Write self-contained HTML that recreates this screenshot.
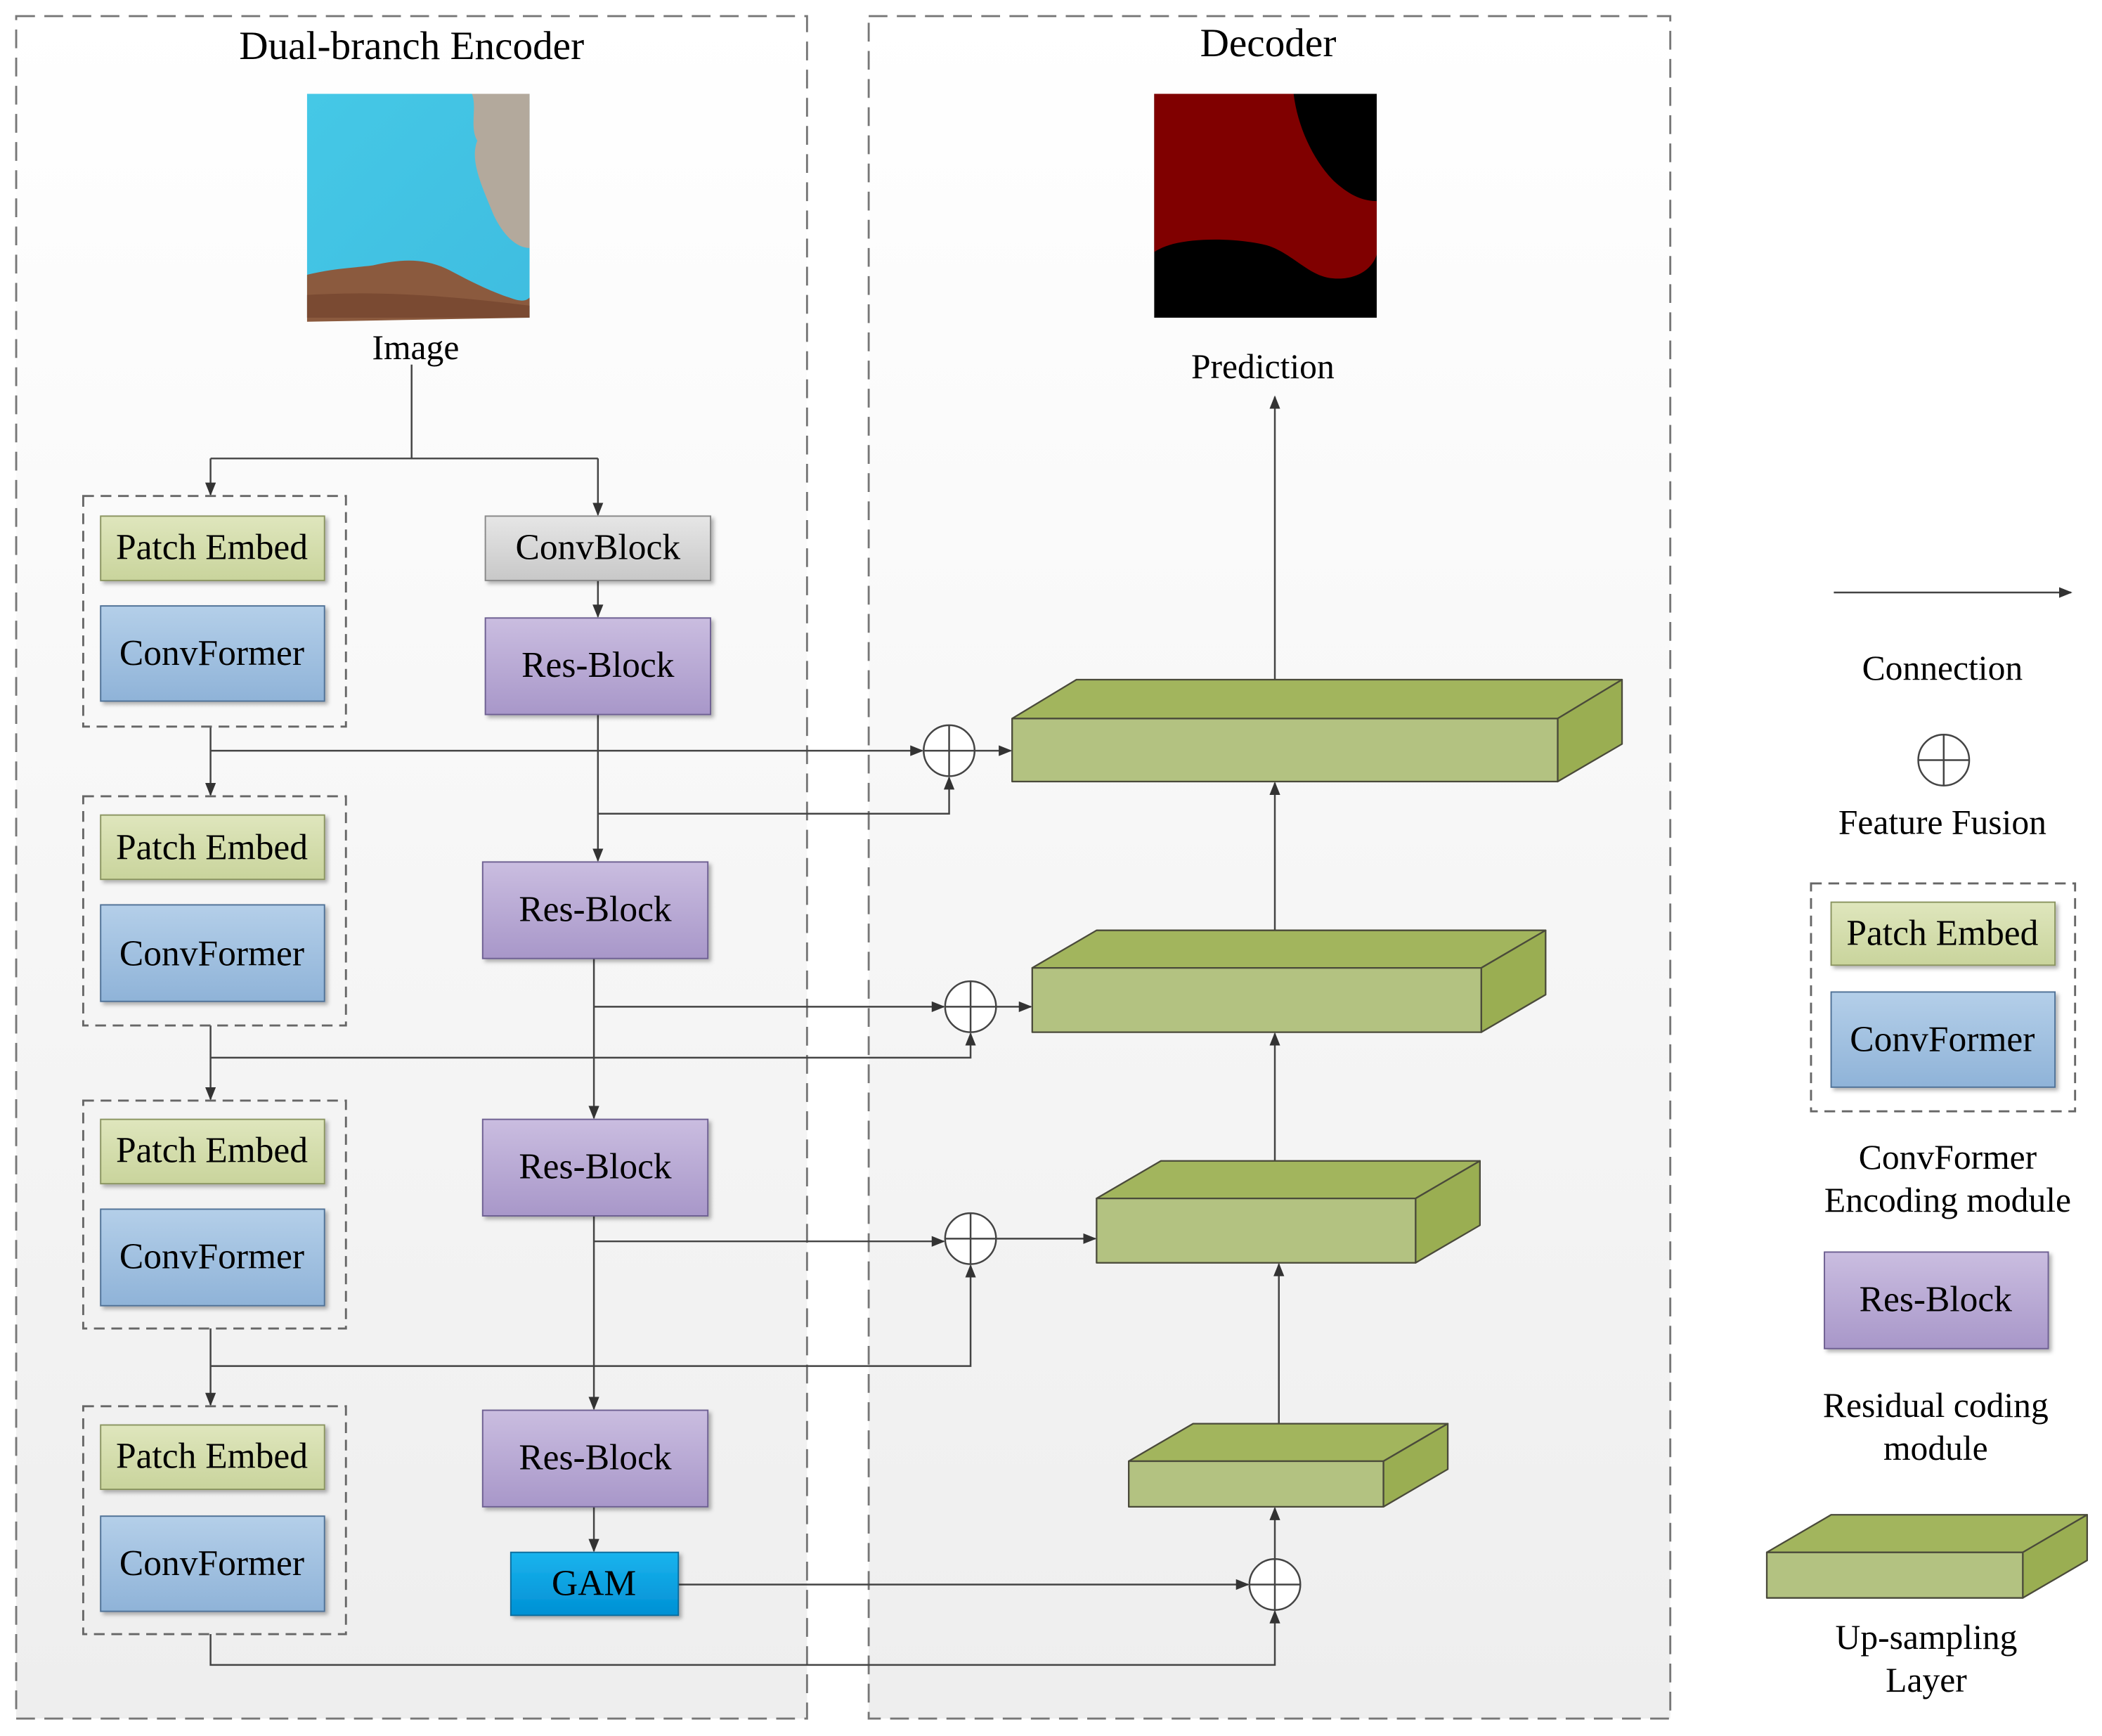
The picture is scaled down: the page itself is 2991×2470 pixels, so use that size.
<!DOCTYPE html>
<html><head><meta charset="utf-8"><style>html,body{margin:0;padding:0;background:#fff}svg{display:block}</style></head>
<body>
<svg width="2991" height="2470" viewBox="0 0 1568 1295" xmlns="http://www.w3.org/2000/svg" font-family="Liberation Serif, serif">
<defs>
<linearGradient id="bg" x1="0" y1="0" x2="0" y2="1"><stop offset="0" stop-color="#ffffff"/><stop offset="1" stop-color="#eeeeee"/></linearGradient>
<linearGradient id="pe" x1="0" y1="0" x2="0" y2="1"><stop offset="0" stop-color="#dfe6bd"/><stop offset="1" stop-color="#c9d49c"/></linearGradient>
<linearGradient id="cf" x1="0" y1="0" x2="0" y2="1"><stop offset="0" stop-color="#b4cfe9"/><stop offset="1" stop-color="#8fb3d8"/></linearGradient>
<linearGradient id="rb" x1="0" y1="0" x2="0" y2="1"><stop offset="0" stop-color="#cabde0"/><stop offset="1" stop-color="#a897c9"/></linearGradient>
<linearGradient id="cb" x1="0" y1="0" x2="0" y2="1"><stop offset="0" stop-color="#e6e6e6"/><stop offset="1" stop-color="#c8c8c8"/></linearGradient>
<linearGradient id="gam" x1="0" y1="0" x2="0" y2="1"><stop offset="0" stop-color="#1ab4ee"/><stop offset="1" stop-color="#0090d4"/></linearGradient>
<linearGradient id="water" x1="0" y1="0" x2="1" y2="1"><stop offset="0" stop-color="#45c8e6"/><stop offset="1" stop-color="#3fbde0"/></linearGradient>
<marker id="a" markerWidth="10" markerHeight="8" refX="9" refY="4" orient="auto" markerUnits="userSpaceOnUse"><path d="M0,0 L10,4 L0,8 Z" fill="#333"/></marker>
<filter id="sh" x="-10%" y="-10%" width="130%" height="140%"><feDropShadow dx="2" dy="2" stdDeviation="1.5" flood-color="#000" flood-opacity="0.3"/></filter>
</defs>
<rect width="1568" height="1295" fill="#fff"/>
<rect x="12" y="12" width="590" height="1270" fill="url(#bg)" stroke="#777" stroke-width="1.5" stroke-dasharray="14,7"/>
<rect x="648" y="12" width="598" height="1270" fill="url(#bg)" stroke="#777" stroke-width="1.5" stroke-dasharray="14,7"/>
<text x="307" y="44" font-size="30" text-anchor="middle">Dual-branch Encoder</text>
<text x="946" y="42" font-size="30" text-anchor="middle">Decoder</text>
<rect x="229" y="70" width="166" height="167" fill="url(#water)"/>
<path d="M352,70 L395,70 L395,185 C385,185 375,175 368,160 C360,140 350,120 356,105 C350,95 356,80 352,70Z" fill="#b3a99c"/>
<path d="M229,240 L229,205 C250,200 262,200 278,198 C300,193 318,192 338,203 C355,212 368,218 380,222 C388,225 392,225 395,222 L395,237 Z" fill="#8b5a3e"/>
<path d="M229,237 L229,220 C280,217 330,220 395,228 L395,237Z" fill="#7a4a32"/>
<text x="310" y="268" font-size="26" text-anchor="middle">Image</text>
<rect x="861" y="70" width="166" height="167" fill="#000"/>
<path d="M861,70 L965,70 C968,95 980,120 995,135 C1008,147 1018,150 1027,150 L1027,190 C1022,205 1005,210 990,207 C975,204 962,188 945,183 C925,178 895,177 875,182 C868,184 864,186 861,188 Z" fill="#800000"/>
<text x="942" y="282" font-size="26" text-anchor="middle">Prediction</text>
<g stroke="#444" stroke-width="1.3" fill="none">
<path d="M307,272 V342 M157,342 H446"/>
<path d="M157,342 V369" marker-end="url(#a)"/>
<path d="M446,342 V384" marker-end="url(#a)"/>
<path d="M446,433 V460" marker-end="url(#a)"/>
<path d="M157,542 V593" marker-end="url(#a)"/>
<path d="M157,560 H688" marker-end="url(#a)"/>
<path d="M727,560 H754" marker-end="url(#a)"/>
<path d="M446,533 V642" marker-end="url(#a)"/>
<path d="M446,607 H708 V580" marker-end="url(#a)"/>
<path d="M443,715 V834" marker-end="url(#a)"/>
<path d="M443,751 H704" marker-end="url(#a)"/>
<path d="M743,751 H769" marker-end="url(#a)"/>
<path d="M157,765 V820" marker-end="url(#a)"/>
<path d="M157,789 H724 V771" marker-end="url(#a)"/>
<path d="M443,907 V1051" marker-end="url(#a)"/>
<path d="M443,926 H704" marker-end="url(#a)"/>
<path d="M743,924 H817" marker-end="url(#a)"/>
<path d="M157,991 V1048" marker-end="url(#a)"/>
<path d="M157,1019 H724 V944" marker-end="url(#a)"/>
<path d="M443,1124 V1157" marker-end="url(#a)"/>
<path d="M506,1182 H931" marker-end="url(#a)"/>
<path d="M157,1219 V1242 H951 V1202" marker-end="url(#a)"/>
<path d="M951,1163 V1125" marker-end="url(#a)"/>
<path d="M954,1062 V943" marker-end="url(#a)"/>
<path d="M951,866 V771" marker-end="url(#a)"/>
<path d="M951,694 V584" marker-end="url(#a)"/>
<path d="M951,507 V296" marker-end="url(#a)"/>
<path d="M1368,442 H1545" marker-end="url(#a)"/>
</g>
<g stroke="#444" stroke-width="1.3" fill="#fff">
<circle cx="708" cy="560" r="19"/><path d="M689,560 H727 M708,541 V579"/>
<circle cx="724" cy="751" r="19"/><path d="M705,751 H743 M724,732 V770"/>
<circle cx="724" cy="924" r="19"/><path d="M705,924 H743 M724,905 V943"/>
<circle cx="951" cy="1182" r="19"/><path d="M932,1182 H970 M951,1163 V1201"/>
<circle cx="1450" cy="567" r="19"/><path d="M1431,567 H1469 M1450,548 V586"/>
</g>
<g stroke="#666" stroke-width="1.5" stroke-dasharray="8,5" fill="none">
<rect x="62" y="370" width="196" height="172"/>
<rect x="62" y="594" width="196" height="171"/>
<rect x="62" y="821" width="196" height="170"/>
<rect x="62" y="1049" width="196" height="170"/>
<rect x="1351" y="659" width="197" height="170"/>
</g>
<g font-size="27" text-anchor="middle" stroke-width="1">
<g filter="url(#sh)">
<rect x="75" y="385" width="167" height="48" fill="url(#pe)" stroke="#8a9460"/>
<rect x="75" y="452" width="167" height="71" fill="url(#cf)" stroke="#4f7196"/>
<rect x="75" y="608" width="167" height="48" fill="url(#pe)" stroke="#8a9460"/>
<rect x="75" y="675" width="167" height="72" fill="url(#cf)" stroke="#4f7196"/>
<rect x="75" y="835" width="167" height="48" fill="url(#pe)" stroke="#8a9460"/>
<rect x="75" y="902" width="167" height="72" fill="url(#cf)" stroke="#4f7196"/>
<rect x="75" y="1063" width="167" height="48" fill="url(#pe)" stroke="#8a9460"/>
<rect x="75" y="1131" width="167" height="71" fill="url(#cf)" stroke="#4f7196"/>
<rect x="362" y="385" width="168" height="48" fill="url(#cb)" stroke="#888"/>
<rect x="362" y="461" width="168" height="72" fill="url(#rb)" stroke="#6d5f91"/>
<rect x="360" y="643" width="168" height="72" fill="url(#rb)" stroke="#6d5f91"/>
<rect x="360" y="835" width="168" height="72" fill="url(#rb)" stroke="#6d5f91"/>
<rect x="360" y="1052" width="168" height="72" fill="url(#rb)" stroke="#6d5f91"/>
<rect x="381" y="1158" width="125" height="47" fill="url(#gam)" stroke="#0a6c9c"/>
<rect x="1366" y="673" width="167" height="47" fill="url(#pe)" stroke="#8a9460"/>
<rect x="1366" y="740" width="167" height="71" fill="url(#cf)" stroke="#4f7196"/>
<rect x="1361" y="934" width="167" height="72" fill="url(#rb)" stroke="#6d5f91"/>
</g>
<text x="158" y="417">Patch Embed</text>
<text x="158" y="496">ConvFormer</text>
<text x="158" y="641">Patch Embed</text>
<text x="158" y="720">ConvFormer</text>
<text x="158" y="867">Patch Embed</text>
<text x="158" y="946">ConvFormer</text>
<text x="158" y="1095">Patch Embed</text>
<text x="158" y="1175">ConvFormer</text>
<text x="446" y="417">ConvBlock</text>
<text x="446" y="505">Res-Block</text>
<text x="444" y="687">Res-Block</text>
<text x="444" y="879">Res-Block</text>
<text x="444" y="1096">Res-Block</text>
<text x="443" y="1190">GAM</text>
<text x="1449" y="705">Patch Embed</text>
<text x="1449" y="784">ConvFormer</text>
<text x="1444" y="978">Res-Block</text>
</g>
<g stroke="#4a4a3a" stroke-width="1.2" stroke-linejoin="round">
<path d="M755,536 L803,507 L1210,507 L1162,536 Z" fill="#a2b55d"/>
<path d="M1162,536 L1210,507 L1210,555 L1162,583 Z" fill="#9aae52"/>
<rect x="755" y="536" width="407" height="47" fill="#b3c281"/>
<path d="M770,722 L818,694 L1153,694 L1105,722 Z" fill="#a2b55d"/>
<path d="M1105,722 L1153,694 L1153,742 L1105,770 Z" fill="#9aae52"/>
<rect x="770" y="722" width="335" height="48" fill="#b3c281"/>
<path d="M818,894 L866,866 L1104,866 L1056,894 Z" fill="#a2b55d"/>
<path d="M1056,894 L1104,866 L1104,914 L1056,942 Z" fill="#9aae52"/>
<rect x="818" y="894" width="238" height="48" fill="#b3c281"/>
<path d="M842,1090 L890,1062 L1080,1062 L1032,1090 Z" fill="#a2b55d"/>
<path d="M1032,1090 L1080,1062 L1080,1096 L1032,1124 Z" fill="#9aae52"/>
<rect x="842" y="1090" width="190" height="34" fill="#b3c281"/>
<path d="M1318,1158 L1366,1130 L1557,1130 L1509,1158 Z" fill="#a2b55d"/>
<path d="M1509,1158 L1557,1130 L1557,1164 L1509,1192 Z" fill="#9aae52"/>
<rect x="1318" y="1158" width="191" height="34" fill="#b3c281"/>
</g>
<g font-size="26" text-anchor="middle">
<text x="1449" y="507">Connection</text>
<text x="1449" y="622">Feature Fusion</text>
<text x="1453" y="872">ConvFormer</text>
<text x="1453" y="904">Encoding module</text>
<text x="1444" y="1057">Residual coding</text>
<text x="1444" y="1089">module</text>
<text x="1437" y="1230">Up-sampling</text>
<text x="1437" y="1262">Layer</text>
</g>
</svg>
</body></html>
